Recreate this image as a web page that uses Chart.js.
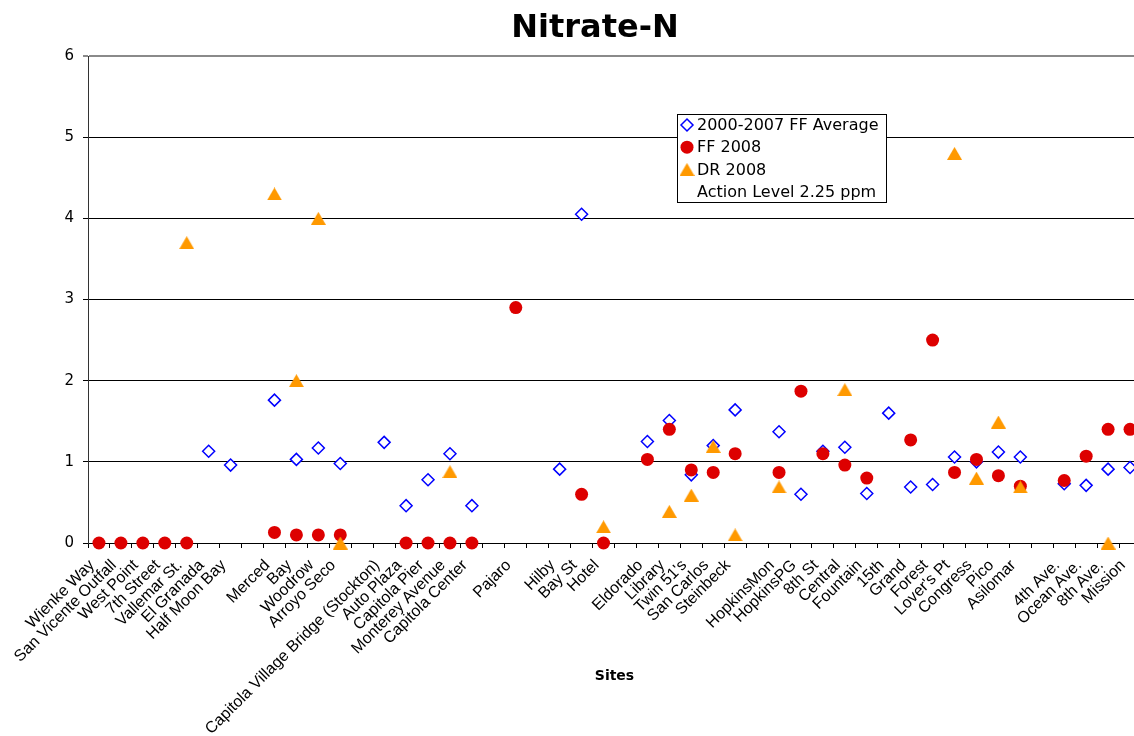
<!DOCTYPE html>
<html>
<head>
<meta charset="utf-8">
<script src="https://cdn.jsdelivr.net/npm/chart.js@4/dist/chart.umd.min.js"></script>
<style>
  html, body { margin: 0; padding: 0; background: #fff; overflow: hidden; }
  #wrap { width: 1153px; height: 736px; }
</style>
</head>
<body>
<div id="wrap"><canvas id="chart" width="1153" height="736"></canvas></div>
<script>
// Sites along the x axis ('' = empty slot between site groups)
const sites = [
  'Wienke Way', 'San Vicente Outfall', 'West Point', '7th Street', 'Vallemar St.', 'El Granada', 'Half Moon Bay', '',
  'Merced', 'Bay', 'Woodrow', 'Arroyo Seco', '',
  'Capitola Village Bridge (Stockton)', 'Auto Plaza', 'Capitola Pier', 'Monterey Avenue', 'Capitola Center', '',
  'Pajaro', '',
  'Hilby', 'Bay St', 'Hotel', '',
  'Eldorado', 'Library', "Twin 51's", 'San Carlos', 'Steinbeck', '',
  'HopkinsMon', 'HopkinsPG', '8th St', 'Central', 'Fountain', '15th', 'Grand', 'Forest', "Lover's Pt", 'Congress', 'Pico', 'Asilomar', '',
  '4th Ave.', 'Ocean Ave.', '8th Ave.', 'Mission'
];

// 2000-2007 FF Average
const ffAverage = [
  null, null, null, null, null, 1.13, 0.96, null,
  1.76, 1.03, 1.17, 0.98, null,
  1.24, 0.46, 0.78, 1.10, 0.46, null,
  null, null,
  0.91, 4.05, null, null,
  1.25, 1.51, 0.84, 1.20, 1.64, null,
  1.37, 0.60, 1.13, 1.18, 0.61, 1.60, 0.69, 0.72, 1.06, 1.00, 1.12, 1.06, null,
  0.73, 0.71, 0.91, 0.93
];

// FF 2008
const ff2008 = [
  0, 0, 0, 0, 0, null, null, null,
  0.13, 0.10, 0.10, 0.10, null,
  null, 0, 0, 0, 0, null,
  2.90, null,
  null, 0.60, 0, null,
  1.03, 1.40, 0.90, 0.87, 1.10, null,
  0.87, 1.87, 1.10, 0.96, 0.80, null, 1.27, 2.50, 0.87, 1.03, 0.83, 0.70, null,
  0.77, 1.07, 1.40, 1.40
];

// DR 2008
const dr2008 = [
  null, null, null, null, 3.70, null, null, null,
  4.30, 2.00, 4.00, 0.00, null,
  null, null, null, 0.88, null, null,
  null, null,
  null, null, 0.20, null,
  null, 0.39, 0.59, 1.19, 0.10, null,
  0.69, null, null, 1.89, null, null, null, null, 4.80, 0.80, 1.49, 0.69, null,
  null, null, 0.00, null
];

// Action level series has no visible marks, only a legend entry
const actionLevel = sites.map(() => null);

const yTicks = [0, 1, 2, 3, 4, 5, 6];

// Excel-style triangle, centred on its bounding box
function makeTriangle(w, h, color) {
  const c = document.createElement('canvas');
  c.width = w; c.height = h;
  const g = c.getContext('2d');
  g.fillStyle = color;
  g.beginPath();
  g.moveTo(w / 2, 0);
  g.lineTo(w, h);
  g.lineTo(0, h);
  g.closePath();
  g.fill();
  return c;
}
const triangle = makeTriangle(15, 13, '#FF9900');

// title + boxed legend drawn inside the plot area, like the Excel original
const decorPlugin = {
  id: 'decor',
  afterDraw(chart) {
    const ctx = chart.ctx;
    ctx.save();
    ctx.fillStyle = '#000';
    ctx.font = 'bold 32px "DejaVu Sans"';
    ctx.textAlign = 'center';
    ctx.textBaseline = 'alphabetic';
    ctx.fillText('Nitrate-N', 595, 37);

    // legend box
    const bx = 677, by = 114, bw = 209, bh = 88;
    ctx.fillStyle = '#fff';
    ctx.fillRect(bx, by, bw, bh);
    ctx.strokeStyle = '#000';
    ctx.lineWidth = 1;
    ctx.strokeRect(bx + 0.5, by + 0.5, bw, bh);

    ctx.font = '16px "DejaVu Sans"';
    ctx.textAlign = 'left';
    ctx.textBaseline = 'middle';
    chart.data.datasets.forEach((ds, i) => {
      const y = by + 11 + i * 22.2;
      if (ds.pointRadius > 0) {
        ctx.fillStyle = ds.pointBackgroundColor;
        ctx.strokeStyle = ds.pointBorderColor;
        ctx.lineWidth = ds.pointBorderWidth;
        Chart.helpers.drawPoint(ctx, {
          pointStyle: ds.pointStyle,
          radius: ds.pointRadius,
          rotation: 0,
          borderWidth: ds.pointBorderWidth
        }, bx + 10, y);
      }
      ctx.fillStyle = '#000';
      ctx.fillText(ds.label, bx + 20, y + 1);
    });
    ctx.restore();
  }
};

new Chart(document.getElementById('chart'), {
  type: 'line',
  data: {
    labels: sites,
    datasets: [
      {
        label: '2000-2007 FF Average',
        data: ffAverage,
        showLine: false,
        clip: false,
        pointStyle: 'rectRot',
        pointRadius: 6,
        pointBorderWidth: 1.5,
        pointBorderColor: '#0000FF',
        pointBackgroundColor: '#FFFFFF',
        order: 3
      },
      {
        label: 'FF 2008',
        data: ff2008,
        showLine: false,
        clip: false,
        pointStyle: 'circle',
        pointRadius: 6.5,
        pointBorderWidth: 0,
        pointBorderColor: '#DD0000',
        pointBackgroundColor: '#DD0000',
        order: 2
      },
      {
        label: 'DR 2008',
        data: dr2008,
        showLine: false,
        clip: false,
        pointStyle: triangle,
        pointRadius: 7,
        pointBorderWidth: 0,
        pointBorderColor: '#FF9900',
        pointBackgroundColor: '#FF9900',
        order: 1
      },
      {
        label: 'Action Level 2.25 ppm',
        data: actionLevel,
        showLine: false,
        pointRadius: 0,
        order: 4
      }
    ]
  },
  options: {
    responsive: false,
    animation: false,
    events: [],
    // the Excel plot area runs a few pixels past the right edge of the picture
    layout: { padding: { top: 56, right: 12, bottom: 0, left: 0 } },
    plugins: {
      legend: { display: false },
      title: { display: false },
      tooltip: { enabled: false }
    },
    scales: {
      x: {
        type: 'category',
        offset: true,
        afterFit(scale) {
          scale.height = 193;
          scale.paddingRight = 0;
          scale.paddingLeft = 0;
        },
        grid: {
          offset: true,
          drawOnChartArea: false,
          drawTicks: true,
          tickLength: 5,
          color: '#000'
        },
        border: { color: '#000', width: 1 },
        ticks: {
          autoSkip: false,
          maxRotation: 45,
          minRotation: 45,
          padding: 8,
          labelOffset: -7,
          color: '#000',
          font: { family: '"Liberation Sans", Arial', size: 16 }
        },
        title: {
          display: true,
          text: 'Sites',
          color: '#000',
          font: { family: '"DejaVu Sans"', size: 14, weight: 'bold' },
          padding: { top: 0, bottom: 51 }
        }
      },
      y: {
        min: 0,
        max: 6,
        afterFit(scale) { scale.width = 88; },
        afterBuildTicks(scale) { scale.ticks = yTicks.map(v => ({ value: v })); },
        grid: {
          color: c => (c.tick && c.tick.value === 6 ? '#8a8a8a' : '#000'),
          lineWidth: c => (c.tick && c.tick.value === 6 ? 2 : 1),
          tickLength: 5
        },
        border: { color: '#333', width: 1 },
        ticks: {
          padding: 9,
          color: '#000',
          font: { family: '"DejaVu Sans"', size: 15 }
        }
      }
    }
  },
  plugins: [decorPlugin]
});
</script>
</body>
</html>
